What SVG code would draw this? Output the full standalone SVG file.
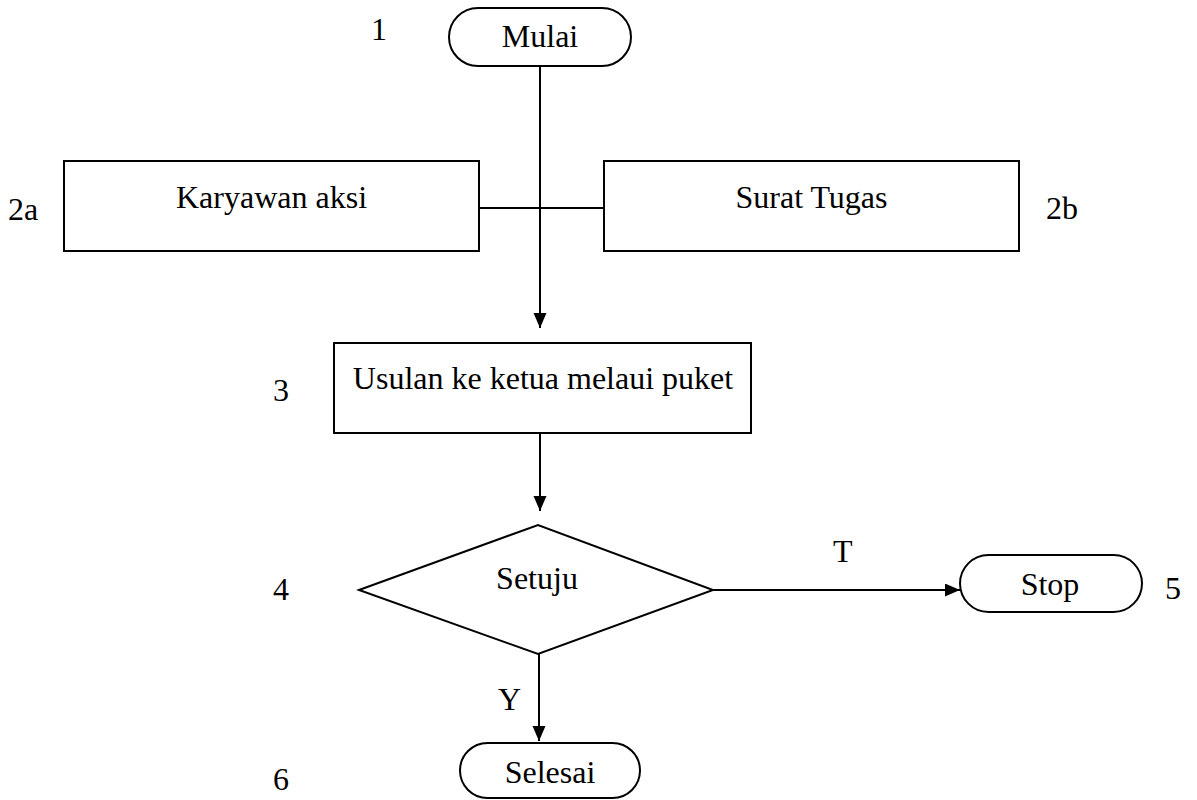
<svg xmlns="http://www.w3.org/2000/svg" width="1197" height="800" viewBox="0 0 1197 800">
<defs>
<style>
.s{fill:#fff;stroke:#000;stroke-width:2}
.c{fill:none;stroke:#000;stroke-width:2}
.t{font-family:"Liberation Serif","Times New Roman",serif;font-size:32px;fill:#000}
.m{text-anchor:middle}
</style>
<marker id="ah" markerUnits="userSpaceOnUse" markerWidth="16" markerHeight="14" refX="15" refY="6.5" orient="auto">
<path d="M0,0 L15,6.5 L0,13 z" fill="#000"/>
</marker>
</defs>
<rect width="1197" height="800" fill="#fff"/>
<g id="connectors">
<line class="c" x1="540" y1="66" x2="540" y2="328" marker-end="url(#ah)"/>
<line class="c" x1="479" y1="208" x2="604" y2="208" stroke-width="1.6"/>
<line class="c" x1="540" y1="433" x2="540" y2="511" marker-end="url(#ah)"/>
<line class="c" x1="713" y1="590" x2="960" y2="590" marker-end="url(#ah)"/>
<line class="c" x1="539" y1="654" x2="539" y2="741" marker-end="url(#ah)"/>
<text class="t" x="833" y="562">T</text>
<text class="t" x="498" y="710">Y</text>
</g>
<g id="n1">
<rect class="s" x="449" y="8" width="182" height="58" rx="29"/>
<text class="t m" x="540" y="47">Mulai</text>
<text class="t" x="371" y="40">1</text>
</g>
<g id="n2a">
<rect class="s" x="64" y="161" width="415" height="90"/>
<text class="t m" x="271.5" y="208">Karyawan aksi</text>
<text class="t" x="8" y="220">2a</text>
</g>
<g id="n2b">
<rect class="s" x="604" y="161" width="415" height="90"/>
<text class="t m" x="811.5" y="208">Surat Tugas</text>
<text class="t" x="1046" y="219">2b</text>
</g>
<g id="n3">
<rect class="s" x="334" y="343" width="417" height="90"/>
<text class="t m" x="543" y="389">Usulan ke ketua melaui puket</text>
<text class="t" x="273" y="401">3</text>
</g>
<g id="n4">
<polygon class="s" points="359,590 538,525 713,590 538,654"/>
<text class="t m" x="537" y="589">Setuju</text>
<text class="t" x="273" y="600">4</text>
</g>
<g id="n5">
<rect class="s" x="960" y="555" width="182" height="57" rx="28.5"/>
<text class="t m" x="1050" y="595">Stop</text>
<text class="t" x="1165" y="599">5</text>
</g>
<g id="n6">
<rect class="s" x="460" y="743" width="180" height="55" rx="27.5"/>
<text class="t m" x="550" y="783">Selesai</text>
<text class="t" x="273" y="790">6</text>
</g>
</svg>
